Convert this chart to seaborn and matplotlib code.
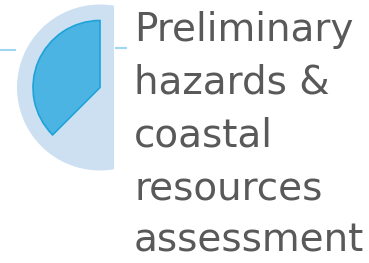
import numpy as np
import pandas as pd
import matplotlib
matplotlib.use("Agg")
import matplotlib.pyplot as plt
from matplotlib.patches import Wedge, Circle, Rectangle
import seaborn as sns

# stage marker: share of the circle that is filled, starting at 12 o'clock going ccw
stage_share = [0.375]
title_lines = ["Preliminary", "hazards &", "coastal", "resources", "assessment"]

light_blue = "#cde0f1"
mid_blue = "#4bb4e2"
edge_blue = "#1ea3d9"
line_blue = "#9fd5ee"
text_grey = "#595959"

sns.set_theme(style="white")

fig = plt.figure(figsize=(3.69, 2.63), dpi=100)
ax = fig.add_axes([0, 0, 1, 1])
ax.set_xlim(0, 369)
ax.set_ylim(263, 0)
ax.set_aspect("equal")
ax.axis("off")

cx, cy = 100, 87.5

# background disc, cut off on the right
disc = Circle((cx, cy), 83, facecolor=light_blue, edgecolor="none", zorder=1)
ax.add_patch(disc)
clip = Rectangle((0, 0), 113.5, 263, transform=ax.transData, visible=False)
ax.add_patch(clip)
disc.set_clip_path(clip)

# filled slice (y axis is flipped, so angles go the other way)
start = 90
end = start + stage_share[0] * 360
w = Wedge((cx, cy), 67, 360 - end, 360 - start, facecolor=mid_blue,
          edgecolor=edge_blue, linewidth=1.2, zorder=2)
ax.add_patch(w)

# connector ticks
ax.plot([0, 16], [50, 50], color=line_blue, lw=1.5, solid_capstyle="butt")
ax.plot([115, 127], [48, 48], color=line_blue, lw=1.5, solid_capstyle="butt")

for i, line in enumerate(title_lines):
    ax.text(134, 41 + i * 52.7, line, fontsize=28, color=text_grey,
            ha="left", va="baseline", family="DejaVu Sans")

fig.savefig("out.png", dpi=100)
